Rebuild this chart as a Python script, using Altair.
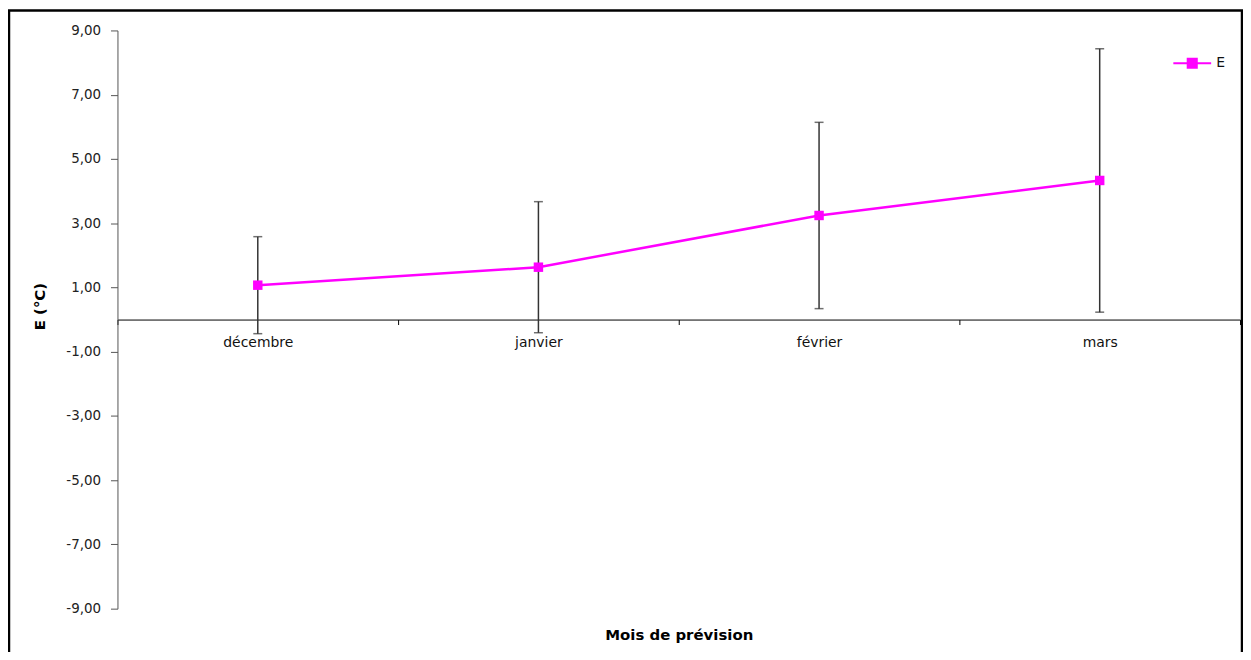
import altair as alt
import pandas as pd

months = ["décembre", "janvier", "février", "mars"]
E = [1.07, 1.63, 3.24, 4.33]
err = [1.51, 2.04, 2.90, 4.10]
series = ["E", "E", "E", "E"]
y_ticks = [-9, -7, -5, -3, -1, 1, 3, 5, 7, 9]

df = pd.DataFrame({"mois": months, "E": E, "err": err, "serie": series})

W, H = 1128, 581
FONT = "DejaVu Sans"
MAGENTA = "#FF00FF"

x_enc = alt.X(
    "mois:N",
    sort=months,
    scale=alt.Scale(type="band", paddingInner=0, paddingOuter=0),
    axis=alt.Axis(
        title="Mois de prévision",
        offset=-H / 2,
        tickBand="extent",
        labelAngle=0,
        tickSize=5,
        labelPadding=11,
        domainColor="#000000",
        tickColor="#000000",
        labelColor="#111111",
        labelFont=FONT,
        labelFontSize=14,
        titleFont=FONT,
        titleFontSize=15,
        titleFontWeight="bold",
        titleColor="#000000",
        titleY=317,
        titleBaseline="middle",
        grid=False,
    ),
)

y_axis = alt.Axis(
    title="E (°C)",
    values=y_ticks,
    labelExpr="(datum.value < 0 ? '-' : '') + replace(format(abs(datum.value), '.2f'), '.', ',')",
    grid=False,
    tickSize=7,
    labelPadding=10,
    domainColor="#555555",
    tickColor="#555555",
    labelColor="#222222",
    labelFont=FONT,
    labelFontSize=13.5,
    titleFont=FONT,
    titleFontSize=15,
    titleFontWeight="bold",
    titleColor="#000000",
    titleX=-78,
    titleY=277,
    titleBaseline="middle",
    titleAngle=-90,
)
y_scale = alt.Scale(domain=[-9, 9], nice=False, zero=False)

base = alt.Chart(df).transform_calculate(
    lo="datum.E - datum.err", hi="datum.E + datum.err"
)

rules = base.mark_rule(color="#333333", strokeWidth=1.5).encode(
    x=x_enc,
    y=alt.Y("lo:Q", scale=y_scale, axis=y_axis),
    y2="hi:Q",
)
caps_lo = base.mark_tick(color="#333333", size=9, thickness=1.5).encode(
    x=x_enc, y=alt.Y("lo:Q", scale=y_scale, axis=y_axis)
)
caps_hi = base.mark_tick(color="#333333", size=9, thickness=1.5).encode(
    x=x_enc, y=alt.Y("hi:Q", scale=y_scale, axis=y_axis)
)

line = base.mark_line(color=MAGENTA, strokeWidth=2.5).encode(
    x=x_enc, y=alt.Y("E:Q", scale=y_scale, axis=y_axis)
)

points = base.mark_point(shape="square", filled=True, size=90, opacity=1).encode(
    x=x_enc,
    y=alt.Y("E:Q", scale=y_scale, axis=y_axis),
    color=alt.Color(
        "serie:N",
        scale=alt.Scale(range=[MAGENTA]),
        legend=alt.Legend(
            title=None,
            orient="none",
            legendX=1060,
            legendY=13,
            padding=0,
            symbolType="M-1,0H-0.24M0.24,0H1M-0.24,-0.24H0.24V0.24H-0.24Z",
            symbolSize=1444,
            symbolFillColor=MAGENTA,
            symbolStrokeColor=MAGENTA,
            symbolStrokeWidth=2,
            symbolOpacity=1,
            labelFont=FONT,
            labelFontSize=14,
            labelColor="#111111",
            labelOffset=4,
        ),
    ),
)

frame = alt.Chart(pd.DataFrame({"f": [0]})).mark_rect(
    fillOpacity=0, stroke="#000000", strokeWidth=2.5
).encode(
    x=alt.value(-109), x2=alt.value(1130), y=alt.value(-20), y2=alt.value(H + 80)
)

chart = (
    alt.layer(frame, rules, caps_lo, caps_hi, line, points)
    .properties(
        width=W,
        height=H,
        padding={"left": 110, "top": 21, "right": 3, "bottom": 42},
        autosize=alt.AutoSizeParams(type="none"),
        background="white",
    )
    .configure_view(stroke=None)
)

chart.save("out.html", embed_options={"renderer": "svg", "actions": False})
